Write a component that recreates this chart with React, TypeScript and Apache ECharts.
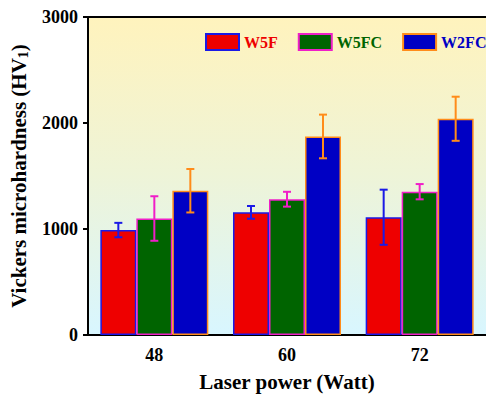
import React, { useEffect, useRef } from "react";
import * as echarts from "echarts";

const categories = ["48", "60", "72"];
const seriesNames = ["W5F", "W5FC", "W2FC"];
const w5f = [990, 1157, 1111];
const w5fErr = [68, 60, 260];
const w5fc = [1099, 1281, 1352];
const w5fcErr = [210, 70, 72];
const w2fc = [1361, 1873, 2040];
const w2fcErr = [205, 206, 208];
const yTicks = [0, 1000, 2000, 3000];
const fillColors = ["#EE0000", "#006400", "#0000C4"];
const edgeColors = ["#1A1AE6", "#F01EC8", "#FF8C1A"];

const BAR_W = 36;

export default function App() {
  const ref = useRef<HTMLDivElement>(null);
  useEffect(() => {
    const chart = echarts.init(ref.current!, undefined, { renderer: "svg" });
    const values = [w5f, w5fc, w2fc];
    const errs = [w5fErr, w5fcErr, w2fcErr];
    const font = "'Liberation Serif', 'Times New Roman', serif";

    const barSeries = seriesNames.map((name, i) => ({
      name,
      type: "bar",
      data: values[i],
      barWidth: BAR_W,
      barGap: "0%",
      itemStyle: { color: fillColors[i], borderColor: edgeColors[i], borderWidth: 1.5 },
    }));

    const errSeries = seriesNames.map((name, i) => ({
      name: name + "_err",
      type: "custom",
      z: 5,
      data: values[i].map((v, k) => [k, v, errs[i][k]]),
      renderItem: (params: any, api: any) => {
        const k = api.value(0);
        const v = api.value(1);
        const e = api.value(2);
        const hi = api.coord([k, v + e]);
        const lo = api.coord([k, v - e]);
        const x = hi[0] + (i - 1) * BAR_W;
        const cap = 4;
        const style = { stroke: edgeColors[i], lineWidth: 2 };
        return {
          type: "group",
          children: [
            { type: "line", shape: { x1: x, y1: hi[1], x2: x, y2: lo[1] }, style },
            { type: "line", shape: { x1: x - cap, y1: hi[1], x2: x + cap, y2: hi[1] }, style },
            { type: "line", shape: { x1: x - cap, y1: lo[1], x2: x + cap, y2: lo[1] }, style },
          ],
        };
      },
    }));

    chart.setOption({
      animation: false,
      textStyle: { fontFamily: font },
      grid: {
        left: 88,
        top: 17,
        width: 401,
        height: 324,
        show: true,
        borderWidth: 0,
        backgroundColor: new echarts.graphic.LinearGradient(0, 0, 0, 1, [
          { offset: 0, color: "#FFF3BD" },
          { offset: 0.5, color: "#EEF4D8" },
          { offset: 1, color: "#D8F6FF" },
        ]),
      },
      legend: {
        data: seriesNames.map((n, i) => ({
          name: n,
          icon: "rect",
          textStyle: { color: fillColors[i] },
        })),
        left: 200,
        top: 28,
        width: 286,
        orient: "horizontal",
        itemWidth: 33,
        itemHeight: 16,
        itemGap: 20,
        textStyle: { fontFamily: font, fontWeight: "bold", fontSize: 16 },
      },
      xAxis: [
        {
          type: "category",
          data: categories,
          name: "Laser power (Watt)",
          nameLocation: "middle",
          nameGap: 36,
          nameTextStyle: { fontFamily: font, fontWeight: "bold", fontSize: 21, color: "#000" },
          axisLine: { lineStyle: { color: "#000", width: 2 } },
          axisTick: { alignWithLabel: true, length: 5, lineStyle: { color: "#000", width: 2 } },
          axisLabel: { margin: 11, fontFamily: font, fontWeight: "bold", fontSize: 18, color: "#000" },
        },
        {
          type: "category",
          data: categories,
          position: "top",
          axisLine: { show: true, lineStyle: { color: "#000", width: 2 } },
          axisTick: { show: false },
          axisLabel: { show: false },
        },
      ],
      yAxis: {
        type: "value",
        min: yTicks[0],
        max: yTicks[yTicks.length - 1],
        interval: 1000,
        name: "Vickers microhardness (HV{sub|1})",
        nameLocation: "middle",
        nameGap: 58,
        nameTextStyle: {
          fontFamily: font,
          fontWeight: "bold",
          fontSize: 21,
          color: "#000",
          rich: {
            sub: { fontFamily: font, fontWeight: "bold", fontSize: 14, color: "#000", verticalAlign: "bottom", padding: [9, 0, 0, 0] },
          },
        },
        axisLine: { show: true, lineStyle: { color: "#000", width: 2 } },
        axisTick: { show: true, length: 5, lineStyle: { color: "#000", width: 2 } },
        splitLine: { show: false },
        axisLabel: {
          margin: 10,
          fontFamily: font,
          fontWeight: "bold",
          fontSize: 18,
          color: "#000",
          formatter: (v: number) => String(v),
        },
      },
      series: [...barSeries, ...errSeries],
    });
    return () => chart.dispose();
  }, []);
  return <div ref={ref} style={{ width: 486, height: 397, position: "absolute", left: 0, top: 0 }} />;
}
